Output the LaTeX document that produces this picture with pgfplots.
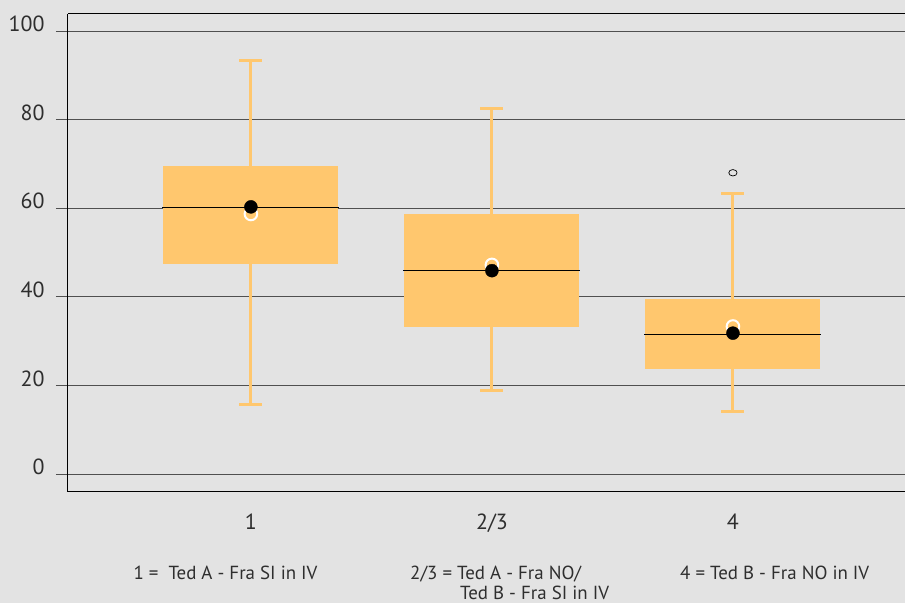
\documentclass[border=0pt]{standalone}
\usepackage{fontspec}
\setmainfont{PT Sans}
\usepackage{pgfplots}
\pgfplotsset{compat=1.18}
\definecolor{bg}{HTML}{E3E3E3}
\definecolor{boxorange}{HTML}{FFC76E}
\definecolor{gridgray}{HTML}{505050}
\begin{document}
\begin{tikzpicture}
\fill[bg] (-68bp,-111bp) rectangle (837bp,492bp);
\useasboundingbox (-68bp,-111bp) rectangle (837bp,492bp);
\begin{axis}[
  at={(0,0)}, anchor=south west,
  scale only axis, width=837bp, height=478bp,
  xmin=0.241, xmax=3.714, ymin=-4.06, ymax=103.84,
  axis x line*=bottom, axis y line*=left,
  axis line style={-, black, line width=1bp},
  xtick={1,2,3}, xticklabels={1,2/3,4},
  xtick style={draw=none},
  ytick={0,20,40,60,80,100},
  ymajorgrids, major grid style={gridgray, line width=0.8bp},
  tick align=outside, major tick length=12bp,
  ytick style={draw=gridgray, line width=0.8bp},
  /pgf/number format/assume math mode=true,
  tick label style={font=\fontsize{22}{24}\selectfont, text=black!82},
  yticklabel style={xshift=-8bp, yshift=7bp},
  xticklabel style={yshift=-6bp},
  clip=false,
]
% boxes (lower quartile to upper quartile)
\addplot[fill=boxorange, draw=none] coordinates {(0.637,47.5) (1.363,47.5) (1.363,69.6) (0.637,69.6)} -- cycle;
\addplot[fill=boxorange, draw=none] coordinates {(1.637,33.2) (2.363,33.2) (2.363,58.7) (1.637,58.7)} -- cycle;
\addplot[fill=boxorange, draw=none] coordinates {(2.637,23.7) (3.363,23.7) (3.363,39.5) (2.637,39.5)} -- cycle;
% whiskers
\addplot[boxorange, line width=3bp] coordinates {(1,69.6) (1,93.4)};
\addplot[boxorange, line width=3bp] coordinates {(1,47.5) (1,15.7)};
\addplot[boxorange, line width=3bp] coordinates {(0.9525,93.4) (1.0475,93.4)};
\addplot[boxorange, line width=3bp] coordinates {(0.9525,15.7) (1.0475,15.7)};
\addplot[boxorange, line width=3bp] coordinates {(2,58.7) (2,82.4)};
\addplot[boxorange, line width=3bp] coordinates {(2,33.2) (2,18.9)};
\addplot[boxorange, line width=3bp] coordinates {(1.9525,82.4) (2.0475,82.4)};
\addplot[boxorange, line width=3bp] coordinates {(1.9525,18.9) (2.0475,18.9)};
\addplot[boxorange, line width=3bp] coordinates {(3,39.5) (3,63.4)};
\addplot[boxorange, line width=3bp] coordinates {(3,23.7) (3,14.2)};
\addplot[boxorange, line width=3bp] coordinates {(2.9525,63.4) (3.0475,63.4)};
\addplot[boxorange, line width=3bp] coordinates {(2.9525,14.2) (3.0475,14.2)};
% medians
\addplot[black, line width=0.8bp] coordinates {(0.633,60.1) (1.367,60.1)};
\addplot[black, line width=0.8bp] coordinates {(1.633,45.9) (2.367,45.9)};
\addplot[black, line width=0.8bp] coordinates {(2.633,31.6) (3.367,31.6)};
% outlier
\addplot[only marks, mark=o, mark size=3.2bp, mark options={draw=black, line width=0.7bp, xscale=1.3}] coordinates {(3,68.0)};
% white circles and means
\addplot[only marks, mark=o, mark size=6.3bp, mark options={draw=white, line width=2bp}] coordinates {(1,58.7) (2,47.2) (3,33.3)};
\addplot[only marks, mark=*, mark size=6.5bp, mark options={draw=black, fill=black}] coordinates {(1,60.3) (2,45.9) (3,31.8)};
\draw[black, line width=1bp] (rel axis cs:0,1) -- (rel axis cs:1,1);
\end{axis}
\begin{scope}[font=\fontsize{19}{21}\selectfont, text=black!82]
\node[anchor=base, inner sep=0pt] at (157.5bp,-87bp) {1 =\ \ Ted A - Fra SI in IV};
\node[anchor=base west, inner sep=0pt] at (342bp,-87bp) {2/3 = Ted A - Fra NO/};
\node[anchor=base west, inner sep=0pt] at (392bp,-107bp) {Ted B - Fra SI in IV};
\node[anchor=base west, inner sep=0pt] at (612bp,-87bp) {4 = Ted B - Fra NO in IV};
\end{scope}
\end{tikzpicture}
\end{document}
